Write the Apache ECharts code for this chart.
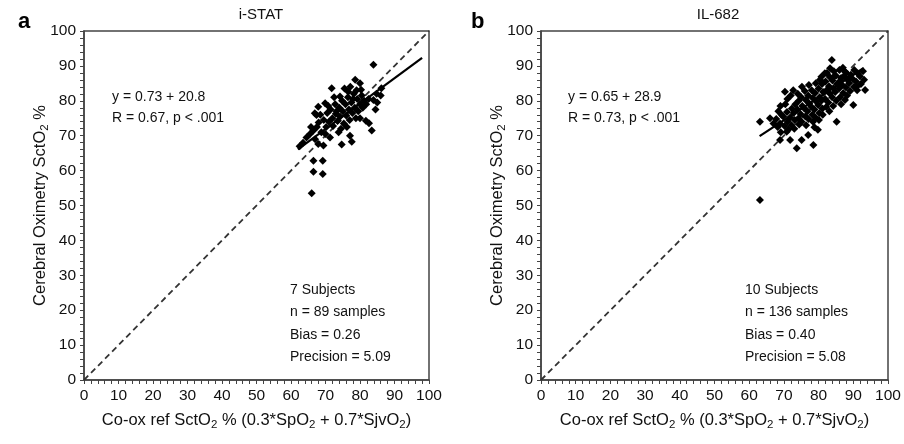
<!DOCTYPE html>
<html><head><meta charset="utf-8">
<script src="https://cdn.jsdelivr.net/npm/echarts@6/dist/echarts.min.js"></script>
<style>html,body{margin:0;padding:0;background:#fff}#c{width:904px;height:444px}</style>
</head><body><div id="c"></div>
<script>
// ---- data ----
const axisTicks = [0,10,20,30,40,50,60,70,80,90,100];
const identityLine = [[0,0],[100,100]];
const regA = [[62,66.1],[98,92.3]];
const regB = [[63,69.9],[93,89.4]];
const pointsA = [
[66.0,53.5],[66.5,59.7],[69.2,59.0],[66.5,62.8],[69.2,62.8],[67.9,67.6],[69.4,67.2],[74.7,67.5],[77.1,70.0],[77.6,68.3],
[83.4,71.5],[80.0,75.0],[81.7,74.3],[82.6,73.6],[84.8,82.0],[86.2,83.6],[83.9,80.2],[83.9,90.3],[71.8,83.6],[78.6,86.0],
[80.0,85.0],[76.6,82.6],[74.2,81.2],[69.9,79.3],[67.9,78.3],[66.9,76.4],[67.4,75.9],
[62.5,67.0],[63.5,68.0],[64.5,69.5],[65.5,70.5],[66.5,71.5],[65.8,72.5],[67.5,72.5],[68.0,73.8],[68.8,71.0],[69.5,74.5],
[70.2,72.5],[70.5,76.5],[71.0,74.0],[71.5,77.5],[72.0,75.0],[72.2,72.8],[72.8,79.0],[73.0,76.3],[73.5,74.2],[74.0,78.0],
[74.2,75.5],[74.8,80.0],[75.0,77.0],[75.3,73.5],[75.8,79.0],[76.0,75.8],[76.5,81.0],[76.8,77.5],[77.0,74.5],[77.5,79.5],
[77.8,76.5],[78.2,82.0],[78.5,78.0],[78.8,75.0],[79.2,80.5],[79.5,77.0],[80.0,79.0],[80.5,81.5],[80.8,78.0],[81.2,80.0],
[81.8,79.0],[82.5,80.5],[70.0,70.5],[71.3,69.5],[73.8,71.0],[68.5,76.0],[72.5,81.0],[75.5,83.5],[77.2,84.0],[79.0,83.0],
[74.5,72.0],[76.2,72.5],[85.0,79.5],[86.0,81.5],[70.8,78.5],[73.2,77.0],[78.0,80.5],[80.3,83.2],[67.0,69.0],[84.5,77.5]
];
const pointsB = [
[63.1,51.6],[63.1,74.0],[66.0,75.0],[67.0,73.5],[68.9,68.8],[71.8,68.8],[73.7,66.4],[75.1,68.8],[77.0,70.2],[78.5,67.3],
[70.8,71.1],[78.8,72.4],[79.8,71.7],[85.2,74.0],[90.0,78.8],[93.4,83.1],[91.0,84.0],[87.6,80.2],[86.5,79.0],[83.8,91.7],
[83.3,89.3],[70.3,82.6],[87.6,88.3],[89.0,86.5],[86.5,86.5],[84.5,87.0],[81.8,87.9],[80.8,86.9],
[68.2,72.5],[67.8,74.8],[68.4,77.0],
[69.1,71.0],[68.9,73.5],[69.3,76.0],[69.0,78.5],
[70.2,72.8],[69.8,75.5],[70.4,79.0],
[71.1,74.0],[70.9,76.8],[71.3,71.8],[71.0,80.5],
[72.2,73.0],[71.8,75.2],[72.3,77.8],[72.0,81.5],
[73.1,74.5],[72.8,76.5],[73.3,79.0],[73.0,72.0],[72.7,83.0],
[74.2,75.0],[73.9,77.5],[74.3,80.0],[74.0,82.0],[74.4,73.2],
[75.1,74.0],[74.8,76.2],[75.3,78.5],[75.0,81.0],[75.2,84.0],
[76.2,75.5],[75.9,77.8],[76.3,80.2],[76.0,82.8],[76.4,73.0],
[77.1,74.8],[76.8,77.0],[77.3,79.2],[77.0,81.5],[77.2,84.5],
[78.2,76.0],[77.9,78.3],[78.3,80.8],[78.0,83.0],[78.4,74.0],
[79.1,75.2],[78.8,77.5],[79.3,79.8],[79.0,82.2],[79.2,85.0],
[80.2,76.5],[79.9,78.8],[80.3,81.0],[80.0,83.5],[80.4,86.0],[80.1,74.5],
[81.1,77.8],[80.8,80.0],[81.3,82.5],[81.0,84.8],[81.2,76.0],
[82.2,78.2],[81.9,80.5],[82.3,83.0],[82.0,85.5],[82.4,88.0],
[83.1,77.0],[82.8,79.5],[83.3,82.0],[83.0,84.2],[83.2,86.8],
[84.2,78.5],[83.9,81.0],[84.3,83.5],[84.0,85.8],[84.4,88.5],
[85.1,80.0],[84.8,82.5],[85.3,84.8],[85.0,87.2],
[86.2,81.0],[85.9,83.5],[86.3,85.8],[86.0,88.8],
[87.1,82.2],[86.8,84.5],[87.3,87.0],[87.0,89.5],
[88.2,81.5],[87.9,83.8],[88.3,86.0],[88.0,88.0],
[89.1,82.8],[88.8,85.0],[89.3,87.5],
[90.2,84.0],[89.9,86.2],[90.3,88.8],
[91.1,83.0],[90.8,85.5],[91.3,87.8],
[92.2,84.8],[91.9,87.0],
[93.1,86.0],[92.8,88.5]
];
const titles = ['i-STAT','IL-682'];
const letters = ['a','b'];
const eqA = ['y = 0.73 + 20.8','R = 0.67, p < .001'];
const eqB = ['y = 0.65 + 28.9','R = 0.73, p < .001'];
const statsA = ['7 Subjects','n = 89 samples','Bias = 0.26','Precision = 5.09'];
const statsB = ['10 Subjects','n = 136 samples','Bias = 0.40','Precision = 5.08'];

// ---- chart ----
const FONT = '"Liberation Sans", Arial, sans-serif';
const AX = '#444';
const rich = {
  n: {fontSize: 16.5, fontFamily: FONT, color: '#111', lineHeight: 24, verticalAlign: 'middle'},
  s: {fontSize: 11.5, fontFamily: FONT, color: '#111', lineHeight: 12, padding: [9,0,0,0], verticalAlign: 'middle'}
};
const xName = '{n|Co-ox ref SctO}{s|2}{n| % (0.3*SpO}{s|2}{n| + 0.7*SjvO}{s|2}{n|)}';
const yName = '{n|Cerebral Oximetry SctO}{s|2}{n| %}';

function xAxisFor(i){
  return {type:'value', gridIndex:i, min:0, max:100, interval:10,
    axisLine:{show:true, onZero:false, lineStyle:{color:AX, width:1.5}},
    axisTick:{show:true, length:4, lineStyle:{color:AX, width:1}},
    minorTick:{show:true, splitNumber:5, length:4, lineStyle:{color:AX, width:1}},
    splitLine:{show:false}, minorSplitLine:{show:false},
    axisLabel:{fontSize:15.5, color:'#111', fontFamily:FONT, margin:8},
    name:xName, nameLocation:'middle', nameGap:28, nameTextStyle:{rich:rich}
  };
}
function yAxisFor(i){
  return {type:'value', gridIndex:i, min:0, max:100, interval:10,
    axisLine:{show:true, onZero:false, lineStyle:{color:AX, width:1.5}},
    axisTick:{show:true, length:4, lineStyle:{color:AX, width:1}},
    minorTick:{show:true, splitNumber:5, length:4, lineStyle:{color:AX, width:1}},
    splitLine:{show:false}, minorSplitLine:{show:false},
    axisLabel:{fontSize:15.5, color:'#111', fontFamily:FONT, margin:8},
    name:yName, nameLocation:'middle', nameGap:32, nameMoveOverlap:false, nameTextStyle:{rich:rich}
  };
}
function seriesFor(i, pts, reg){
  return [
    {type:'line', xAxisIndex:i, yAxisIndex:i, data:identityLine, symbol:'none', silent:true,
     lineStyle:{color:'#333', width:1.8, type:[6,4]}, z:2},
    {type:'scatter', xAxisIndex:i, yAxisIndex:i, data:pts, symbol:'diamond', symbolSize:8,
     itemStyle:{color:'#000', opacity:1}, z:3},
    {type:'line', xAxisIndex:i, yAxisIndex:i, data:reg, symbol:'none', silent:true,
     lineStyle:{color:'#000', width:2.2}, z:4}
  ];
}
function textBlock(lines, left, top, gap){
  return lines.map((t,k)=>({type:'text', left:left, top:top+k*gap,
    style:{text:t, font:'14px '+FONT, fill:'#111'}}));
}
const option = {
  animation:false,
  backgroundColor:'#fff',
  grid:[
    {left:84, top:31, width:345, height:349, show:true, borderColor:AX, borderWidth:1.5, backgroundColor:'transparent'},
    {left:541, top:31, width:347, height:349, show:true, borderColor:AX, borderWidth:1.5, backgroundColor:'transparent'}
  ],
  title:[
    {text:titles[0], left:256, top:2, textAlign:'center', textStyle:{fontSize:15, fontWeight:'normal', color:'#111', fontFamily:FONT}},
    {text:titles[1], left:713, top:2, textAlign:'center', textStyle:{fontSize:15, fontWeight:'normal', color:'#111', fontFamily:FONT}}
  ],
  xAxis:[xAxisFor(0), xAxisFor(1)],
  yAxis:[yAxisFor(0), yAxisFor(1)],
  series:[...seriesFor(0, pointsA, regA), ...seriesFor(1, pointsB, regB)],
  graphic:[
    {type:'text', left:18, top:11, style:{text:letters[0], font:'bold 22px '+FONT, fill:'#000'}},
    {type:'text', left:471, top:11, style:{text:letters[1], font:'bold 22px '+FONT, fill:'#000'}},
    ...textBlock(eqA, 112, 90, 21),
    ...textBlock(eqB, 568, 90, 21),
    ...textBlock(statsA, 290, 283, 22.5),
    ...textBlock(statsB, 745, 283, 22.5)
  ]
};
const chart = echarts.init(document.getElementById('c'), null, {renderer:'canvas'});
chart.setOption(option);
</script></body></html>
